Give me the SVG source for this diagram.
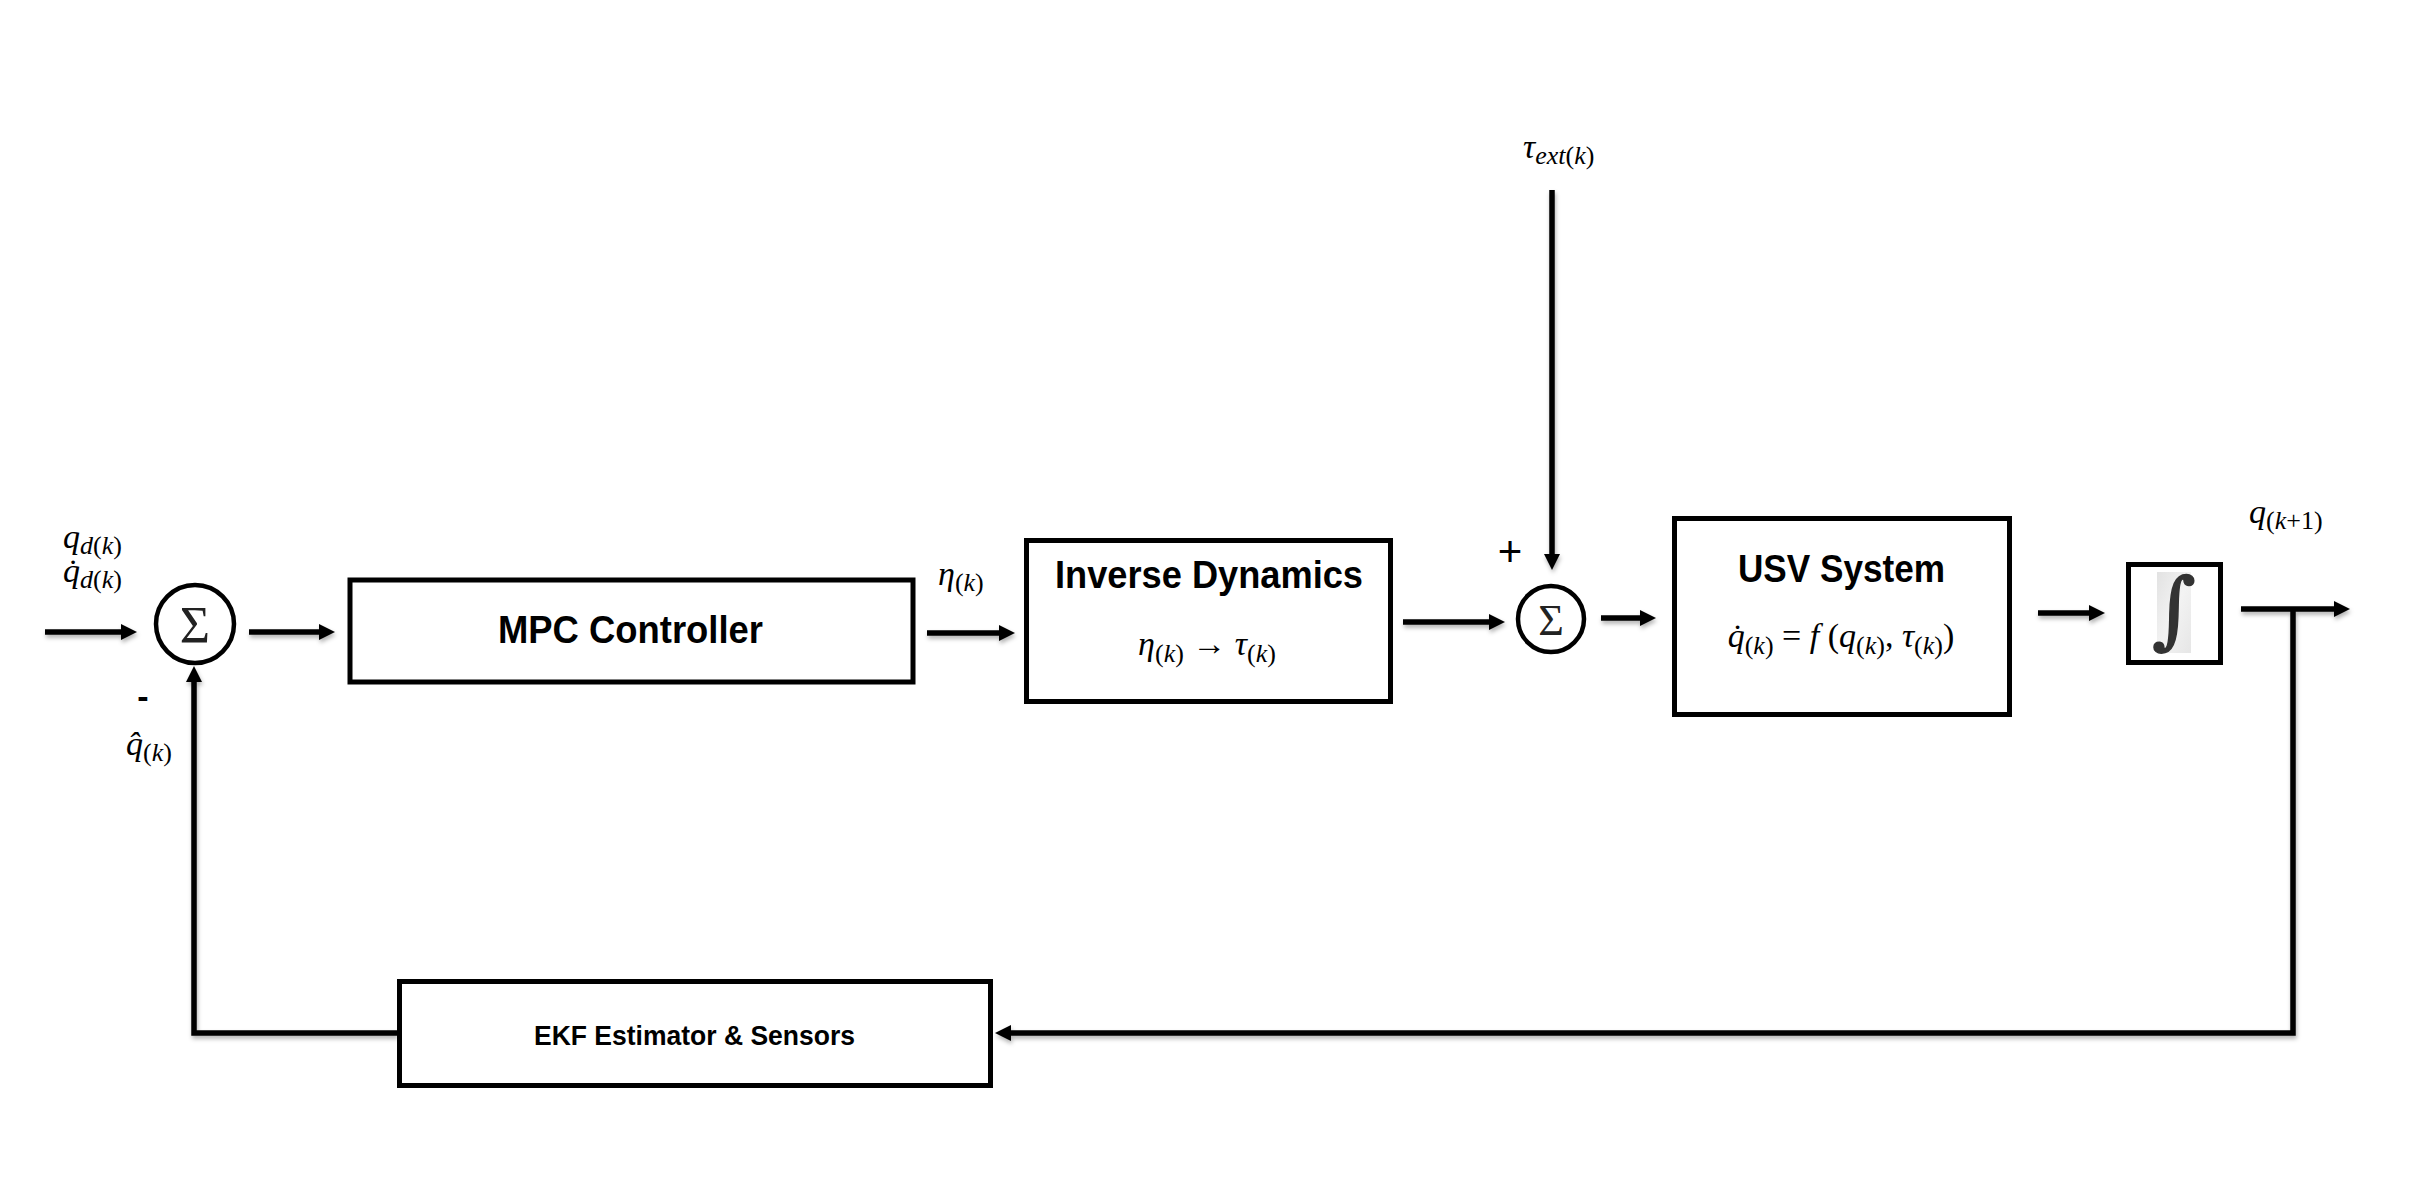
<svg xmlns="http://www.w3.org/2000/svg" width="2415" height="1203" viewBox="0 0 2415 1203">
<style>
.box{fill:#fff;stroke:#000;stroke-width:5}
.title{font-family:"Liberation Sans",Arial,sans-serif;font-weight:bold;fill:#000}
.math{font-family:"Liberation Serif","DejaVu Serif",serif;font-style:italic;fill:#000}
.up{font-style:normal}
.wire{fill:none;stroke:#000;stroke-width:5.5;stroke-linejoin:miter}
.sum{fill:#fff;stroke:#000;stroke-width:4.5}
.sig{font-family:"Liberation Serif","DejaVu Serif",serif;fill:#222}
</style>
<defs>
<marker id="ah" markerUnits="userSpaceOnUse" markerWidth="18" markerHeight="18" refX="6" refY="8" orient="auto">
<path d="M0,0 L16,8 L0,16 z" fill="#000"/>
</marker>
<filter id="sh" x="-5%" y="-5%" width="110%" height="120%">
<feDropShadow dx="1" dy="3" stdDeviation="2" flood-color="#000" flood-opacity="0.3"/>
</filter>
<linearGradient id="ig" x1="0" y1="0" x2="1" y2="1">
<stop offset="0" stop-color="#e2e2e2"/>
<stop offset="0.5" stop-color="#f3f3f3"/>
<stop offset="1" stop-color="#e6e6e6"/>
</linearGradient>
</defs>
<rect width="2415" height="1203" fill="#fff"/>

<g id="connectors" filter="url(#sh)">
<path class="wire" d="M45 632 H127" marker-end="url(#ah)"/>
<path class="wire" d="M249 632 H325" marker-end="url(#ah)"/>
<path class="wire" d="M927 633 H1005" marker-end="url(#ah)"/>
<path class="wire" d="M1403 622 H1495" marker-end="url(#ah)"/>
<path class="wire" d="M1552 190 V560" stroke-width="4.5" marker-end="url(#ah)"/>
<path class="wire" d="M1601 618 H1646" marker-end="url(#ah)"/>
<path class="wire" d="M2038 613 H2095" marker-end="url(#ah)"/>
<path class="wire" d="M2241 609 H2340" marker-end="url(#ah)"/>
<path class="wire" d="M2293 609 V1033 H1005" marker-end="url(#ah)"/>
<path class="wire" d="M397 1033 H194 V676" marker-end="url(#ah)"/>
</g>

<g id="sum1">
<circle class="sum" cx="195" cy="624" r="39"/>
<text class="sig" x="195" y="643" font-size="52" text-anchor="middle">Σ</text>
</g>

<g id="mpc">
<rect class="box" x="350" y="580" width="563" height="102"/>
<text class="title" x="498" y="643" font-size="38" textLength="265" lengthAdjust="spacingAndGlyphs">MPC Controller</text>
</g>

<g id="inverse-dynamics">
<rect class="box" x="1026.5" y="540.5" width="364" height="161"/>
<text class="title" x="1055" y="588" font-size="38" textLength="308" lengthAdjust="spacingAndGlyphs">Inverse Dynamics</text>
<text class="math" x="1207" y="655" font-size="34" text-anchor="middle">η<tspan font-size="26" dy="7"><tspan class="up">(</tspan>k<tspan class="up">)</tspan></tspan><tspan class="up" dy="-7"> → </tspan>τ<tspan font-size="26" dy="7"><tspan class="up">(</tspan>k<tspan class="up">)</tspan></tspan></text>
</g>

<g id="sum2">
<circle class="sum" cx="1551" cy="619" r="33"/>
<text class="sig" x="1551" y="635" font-size="44" text-anchor="middle">Σ</text>
</g>

<g id="usv">
<rect class="box" x="1674.5" y="518.5" width="335" height="196"/>
<text class="title" x="1738" y="582" font-size="38" textLength="207" lengthAdjust="spacingAndGlyphs">USV System</text>
<text class="math" x="1841" y="647" font-size="34" text-anchor="middle">q̇<tspan font-size="26" dy="7"><tspan class="up">(</tspan>k<tspan class="up">)</tspan></tspan><tspan class="up" dy="-7"> = </tspan>f<tspan class="up"> (</tspan>q<tspan font-size="26" dy="7"><tspan class="up">(</tspan>k<tspan class="up">)</tspan></tspan><tspan class="up" dy="-7">, </tspan>τ<tspan font-size="26" dy="7"><tspan class="up">(</tspan>k<tspan class="up">)</tspan></tspan><tspan class="up" dy="-7">)</tspan></text>
</g>

<g id="integrator">
<rect class="box" x="2128.5" y="564.5" width="92" height="98"/>
<rect x="2157" y="572" width="34" height="81" fill="url(#ig)"/>
<text x="2174" y="638" font-family="DejaVu Serif,serif" font-size="84" text-anchor="middle" fill="#333" stroke="#333" stroke-width="1.5">∫</text>
</g>

<g id="ekf">
<rect class="box" x="399.5" y="981.5" width="591" height="104"/>
<text class="title" x="534" y="1045" font-size="28" textLength="321" lengthAdjust="spacingAndGlyphs">EKF Estimator &amp; Sensors</text>
</g>

<g id="labels">
<text class="math" x="63" y="548" font-size="34">q<tspan font-size="26" dy="6">d<tspan class="up">(</tspan>k<tspan class="up">)</tspan></tspan></text>
<text class="math" x="63" y="582" font-size="34">q̇<tspan font-size="26" dy="6">d<tspan class="up">(</tspan>k<tspan class="up">)</tspan></tspan></text>
<text x="143" y="708" font-family="Liberation Sans,Arial,sans-serif" font-weight="bold" font-size="34" text-anchor="middle">-</text>
<text class="math" x="126" y="755" font-size="34">q̂<tspan font-size="26" dy="6"><tspan class="up">(</tspan>k<tspan class="up">)</tspan></tspan></text>
<text class="math" x="938" y="585" font-size="34">η<tspan font-size="26" dy="6"><tspan class="up">(</tspan>k<tspan class="up">)</tspan></tspan></text>
<text class="math" x="1523" y="158" font-size="34">τ<tspan font-size="26" dy="6">ext<tspan class="up">(</tspan>k<tspan class="up">)</tspan></tspan></text>
<text x="1510" y="566" font-family="Liberation Sans,Arial,sans-serif" font-size="42" text-anchor="middle">+</text>
<text class="math" x="2249" y="523" font-size="34">q<tspan font-size="26" dy="6"><tspan class="up">(</tspan>k<tspan class="up">+1)</tspan></tspan></text>
</g>
</svg>
